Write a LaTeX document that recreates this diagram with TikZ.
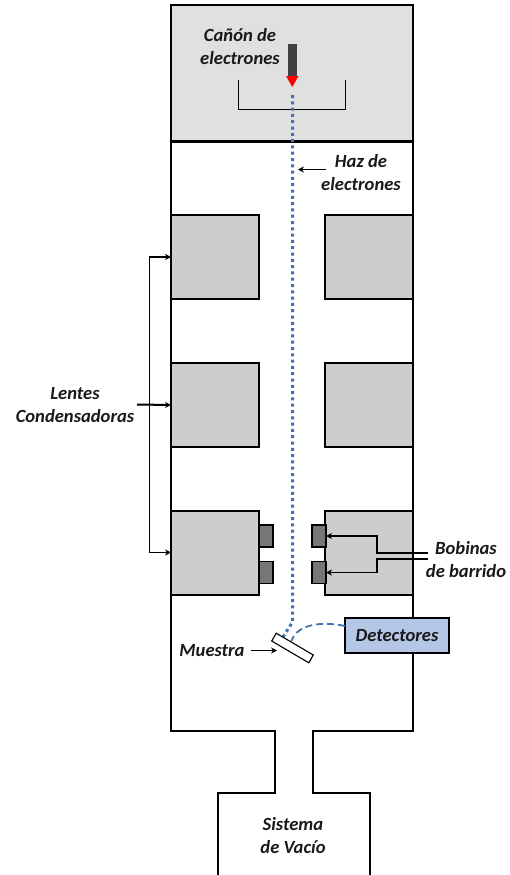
\documentclass[tikz,border=0pt]{standalone}
\usepackage{fontspec}
\setmainfont{Carlito}
\usepackage{tikz}
\usetikzlibrary{arrows.meta,positioning,calc}
\usepackage{xcolor}
\definecolor{chambergray}{RGB}{224,224,224}
\definecolor{lensgray}{RGB}{205,205,205}
\definecolor{coilgray}{RGB}{118,118,118}
\definecolor{gundark}{RGB}{64,64,64}
\definecolor{beamblue}{RGB}{68,114,176}
\definecolor{detblue}{RGB}{180,199,231}
\tikzset{
  wall/.style={line width=2.2pt,black},
  lens/.style={draw=black,line width=2pt,fill=lensgray,minimum width=88pt,minimum height=84pt,inner sep=0pt,outer sep=0pt},
  coil/.style={draw=black,line width=1.8pt,fill=coilgray,minimum width=14pt,minimum height=22pt,inner sep=0pt,outer sep=0pt},
  lbl/.style={font=\fontsize{18.6}{23}\selectfont\bfseries\itshape,text=black!90,align=center,inner sep=1pt,outer sep=0pt},
  arr/.style={line width=1.6pt,-{Stealth[length=6pt,width=6pt]}},
  beam/.style={beamblue,line width=3pt,dash pattern=on 3pt off 3.3pt}
}
\begin{document}
\begin{tikzpicture}[x=1pt,y=-1pt]
  \useasboundingbox (0,0) rectangle (509,875);
  \fill[chambergray] (171,5) rectangle (413,141.5);
  \draw[wall] (218,875)--(218,792.7)--(274.7,792.7)--(274.7,730.7)--(171,730.7)--(171,5)
    --(413,5)--(413,730.7)--(313.3,730.7)--(313.3,792.7)--(370,792.7)--(370,875);
  \draw[wall] (171,141.5)--(413,141.5);
  % lenses
  \foreach \k/\y in {1/257,2/405,3/552.5}{
    \node[lens] (lensL\k) at (215,\y) {};
    \node[lens] (lensR\k) at (369.3,\y) {};
  }
  % coils
  \foreach \k/\y in {1/536,2/572.5}{
    \node[coil] (coilL\k) at (266,\y) {};
    \node[coil] (coilR\k) at (319,\y) {};
  }
  % gun
  \node[draw=none,fill=gundark,minimum width=9pt,minimum height=32pt,inner sep=0pt,outer sep=0pt] (gun) at (292.5,60) {};
  \fill[red] (286,76)--(298.5,76)--(292.3,87)--cycle;
  \draw[line width=0.9pt] (238,80)--(238,109)--(345.5,109)--(345.5,80);
  % beam
  \coordinate (beamtop) at (292.5,95);
  \coordinate (beambend) at (292.5,622);
  \coordinate (beamend) at (283,637);
  \draw[beam] (beamtop)--(beambend)--(beamend);
  % sample and detector
  \node[draw=black,line width=1.1pt,fill=white,minimum width=43pt,minimum height=9pt,inner sep=0pt,outer sep=0pt,rotate=-30.4] (sample) at (292.5,648) {};
  \node[draw=black,line width=2pt,fill=detblue,minimum width=104pt,minimum height=35pt,inner sep=0pt,outer sep=0pt,lbl] (detector) at (397,635.5) {Detectores};
  \coordinate (sampletop) at (291.5,641);
  \coordinate (detleft) at (345,626);
  \draw[beamblue,line width=1.8pt,dash pattern=on 7pt off 4pt] (detleft) .. controls (322,621) and (297,624) .. (sampletop);
  % labels
  \node[lbl] (canon) at (240,47) {Cañón de\\electrones};
  \node[lbl] (haz) at (361,172.5) {Haz de\\electrones};
  \node[lbl] (lentes) at (75,405.5) {Lentes\\Condensadoras};
  \node[lbl] (bobinas) at (466,560) {Bobinas\\de barrido};
  \node[lbl] (muestra) at (212,650.5) {Muestra};
  \node[lbl] (sistema) at (293,835.5) {Sistema\\de Vacío};
  % connectors
  \coordinate (hazfrom) at (325.5,169.5);
  \coordinate (hazto) at (298,169.5);
  \draw[arr] (hazfrom)--(hazto);
  \coordinate (lensbar) at (149.3,404.5);
  \coordinate (lensfrom) at (137,404.5);
  \draw[arr,line width=2pt] (lensfrom)--(lensL2.west);
  \draw[arr] (lensbar)|-(lensL1.west);
  \draw[arr] (lensbar)|-(lensL3.west);
  \coordinate (bobfromA) at (428,553);
  \coordinate (bobfromB) at (428,559);
  \coordinate (bobmidA) at (377,553);
  \coordinate (bobmidB) at (377,559);
  \draw[arr] (bobfromA)--(bobmidA)|-(coilR1.east);
  \draw[arr] (bobfromB)--(bobmidB)|-(coilR2.east);
  \coordinate (sampleleft) at (277,650.5);
  \draw[arr,shorten <=5pt] (muestra.east)--(sampleleft);
\end{tikzpicture}
\end{document}
